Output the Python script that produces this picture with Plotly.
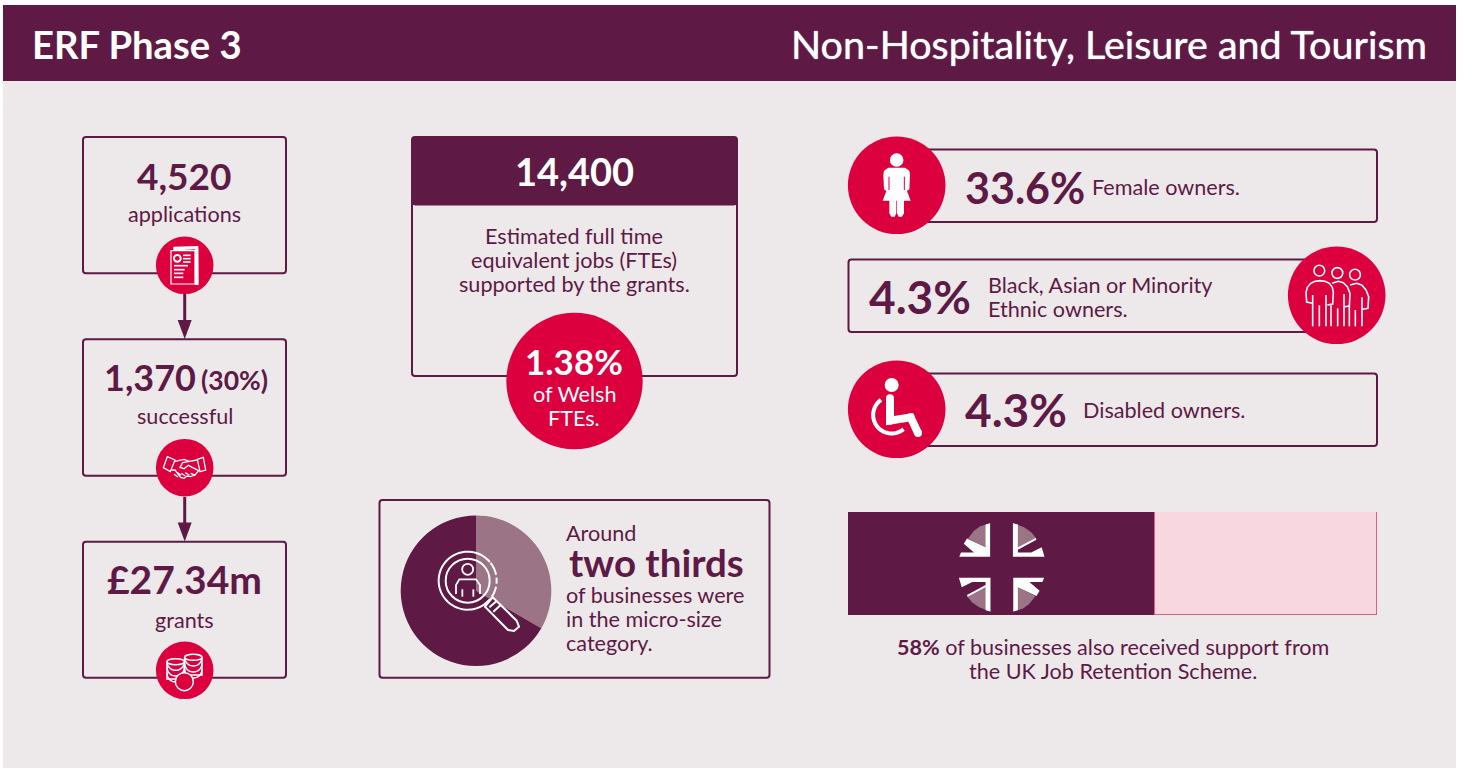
import math
import plotly.graph_objects as go

# ---- data ----
micro_labels = ["Other sizes", "Micro-size"]
micro_values = [33.3, 66.7]
jrs_labels = ["Received UK Job Retention Scheme support", "Did not"]
jrs_values = [58, 42]
funnel_numbers = ["4,520", "1,370", "£27.34m"]
funnel_labels = ["applications", "successful", "grants"]
funnel_pct = "(30%)"
owner_pcts = ["33.6%", "4.3%", "4.3%"]
fte_total = "14,400"
fte_share = "1.38%"
title_left = "ERF Phase 3"
title_right = "Non-Hospitality, Leisure and Tourism"

# ---- style ----
W, H = 1465, 768
PLUM = "#5e1a45"
RED = "#dd003f"
BG = "#ede9eb"
MUTE = "#9b7585"
PINK = "#f9d7e1"
PINKLINE = "#e95d85"
FONT = "Lato"
BODY = 21.6

X = lambda x: x / W
Y = lambda y: 1 - y / H
shapes, notes = [], []


def txt(x, y, s, size=BODY, bold=False, anchor="center", color=PLUM, shadow=None):
    f = dict(family=FONT, size=size, color=color, weight=700 if bold else 400)
    if shadow:
        f["shadow"] = shadow
    lift = 1 if size > 30 else 0
    notes.append(dict(x=X(x), y=Y(y - lift), xref="paper", yref="paper", text=s, showarrow=False,
                      xanchor=anchor, yanchor="middle", borderpad=0, borderwidth=0, font=f))


def raw_path(d, fill=None, line=None, lw=1.5, layer="above"):
    shapes.append(dict(type="path", xref="paper", yref="paper", path=d, layer=layer,
                       fillcolor=fill if fill else "rgba(0,0,0,0)",
                       line=dict(color=line if line else "rgba(0,0,0,0)", width=lw if line else 0)))


def poly(pts, fill=None, line=None, lw=1.5, close=True, layer="above"):
    d = "M" + " L".join(f"{X(a):.5f},{Y(b):.5f}" for a, b in pts)
    raw_path(d + (" Z" if close else ""), fill, line, lw, layer)


def circ(cx, cy, r, fill=None, line=None, lw=1.5, ry=None, layer="above"):
    ry = r if ry is None else ry
    shapes.append(dict(type="circle", xref="paper", yref="paper", layer=layer,
                       x0=X(cx - r), x1=X(cx + r), y0=Y(cy - ry), y1=Y(cy + ry),
                       fillcolor=fill if fill else "rgba(0,0,0,0)",
                       line=dict(color=line if line else "rgba(0,0,0,0)", width=lw if line else 0)))


def rect(x0, y0, x1, y1, fill=None, line=None, lw=2, layer="below"):
    shapes.append(dict(type="rect", xref="paper", yref="paper", layer=layer,
                       x0=X(x0), x1=X(x1), y0=Y(y0), y1=Y(y1),
                       fillcolor=fill if fill else "rgba(0,0,0,0)",
                       line=dict(color=line if line else "rgba(0,0,0,0)", width=lw if line else 0)))


def rbox(x0, y0, x1, y1, r=3, fill=None, line=PLUM, lw=2, layer="below"):
    def q(cx, cy, ex, ey):
        return f"Q{X(cx):.5f},{Y(cy):.5f} {X(ex):.5f},{Y(ey):.5f}"
    def l(a, b):
        return f"L{X(a):.5f},{Y(b):.5f}"
    d = (f"M{X(x0 + r):.5f},{Y(y0):.5f} " + l(x1 - r, y0) + " " + q(x1, y0, x1, y0 + r) + " " +
         l(x1, y1 - r) + " " + q(x1, y1, x1 - r, y1) + " " + l(x0 + r, y1) + " " + q(x0, y1, x0, y1 - r) +
         " " + l(x0, y0 + r) + " " + q(x0, y0, x0 + r, y0) + " Z")
    raw_path(d, fill, line, lw, layer)


def arc(cx, cy, r, a0, a1, n=40):
    return [(cx + r * math.cos(math.radians(a0 + (a1 - a0) * i / n)),
             cy + r * math.sin(math.radians(a0 + (a1 - a0) * i / n))) for i in range(n + 1)]


def zoomer(ox, oy, k=3.0):
    return lambda pts: [(ox + a / k, oy + b / k) for a, b in pts]


# ---- page ----
rect(3, 5, 1456, 768, fill=BG, line=None)
rect(3, 5, 1456, 81, fill=PLUM, line=None)
txt(32, 45, title_left, 38.2, True, "left", "white")
txt(1427, 45, title_right, 39.5, False, "right", "white", shadow="0 0 1px white")

# ---- funnel column ----
BX0, BX1, CX = 83, 286, 184.7
for (y0, y1) in [(137, 273.3), (339.3, 475.7), (541.7, 677.7)]:
    rbox(BX0, y0, BX1, y1)
for ya, yb in [(294, 339), (497, 541.5)]:
    poly([(CX, ya), (CX, yb - 18)], line=PLUM, lw=3, close=False)
    poly([(CX - 7, yb - 19), (CX + 7, yb - 19), (CX, yb)], fill=PLUM)
txt(CX, 176, funnel_numbers[0], 37, True)
txt(CX, 214, funnel_labels[0])
txt(104, 378, funnel_numbers[1], 36, True, "left")
txt(201, 380, funnel_pct, 26.5, True, "left")
txt(CX, 416, funnel_labels[1])
txt(CX, 580, funnel_numbers[2], 39, True)
txt(CX, 620, funnel_labels[2])

# document icon
for cy in (265.3, 467.7, 670.3):
    circ(CX, cy, 28.8, fill=RED)
z = zoomer(60, 120)
poly(z([(340, 392), (340, 380), (415, 378), (416, 495), (405, 495), (405, 388)]), fill="white")
poly(z([(333, 392), (405, 392), (405, 492), (333, 492)]), fill=RED, line="white", lw=1.2)
poly(z([(345, 384), (413, 384), (413, 490)]), line="white", lw=1, close=False)
cx, cy = z([(352, 415)])[0]
circ(cx, cy, 3.4, fill=RED, line="white", lw=2)
for a, b, c in [(369, 392, 406), (369, 392, 416), (369, 392, 426), (342, 384, 437), (342, 374, 449), (342, 370, 460), (342, 370, 472)]:
    poly(z([(a, c), (b, c)]), line="white", lw=1.6, close=False)

# handshake icon
z = zoomer(60, 420)
poly(z([(322, 110), (345, 120), (331, 155), (310, 143)]), line="white", lw=1.3)
poly(z([(412, 118), (430, 112), (437, 150), (420, 155)]), line="white", lw=1.3)
poly(z([(345, 124), (372, 118), (388, 124), (412, 120)]), line="white", lw=1.3, close=False)
poly(z([(388, 124), (368, 128), (360, 142), (372, 146), (385, 136), (416, 152), (405, 165), (392, 160)]), line="white", lw=1.3, close=False)
poly(z([(332, 150), (345, 150), (362, 172), (372, 175), (382, 168), (392, 170), (405, 165)]), line="white", lw=1.3, close=False)
for a, b in [(350, 155), (360, 150), (372, 152), (384, 150)]:
    poly(z([(a - 8, b + 8), (a + 4, b + 16)]), line="white", lw=1.3, close=False)

# coins icon
z = zoomer(60, 420)
for sx, tops in [(347, (725, 742, 760)), (400, (712, 730, 748))]:
    (cxx, _), = z([(sx, 0)])
    top = 420 + tops[0] / 3
    bottom = 420 + (tops[-1] + 17) / 3
    poly([(cxx - 8.7, top), (cxx - 8.7, bottom), (cxx + 8.7, bottom), (cxx + 8.7, top)], fill=RED, line="white", lw=1.5, close=False)
    for t in reversed(tops):
        poly(arc(cxx, 420 + t / 3, 8.7, 0, 180, 16), line="white", lw=1.5, close=False)
    circ(cxx, top, 8.7, ry=3, fill=RED, line="white", lw=1.5)
cx, cy = z([(373, 785)])[0]
circ(cx, cy, 9, fill=RED, line="white", lw=1.5)

# ---- jobs card ----
rbox(412, 137, 737, 376)
rbox(412, 137, 737, 205, fill=PLUM, line=PLUM, lw=1)
txt(574, 172, fte_total, 38, True, color="white")
for y, s in [(236, "Estimated full time"), (260, "equivalent jobs (FTEs)"), (284, "supported by the grants.")]:
    txt(574, y, s)
circ(574.5, 381, 68.2, fill=RED)
txt(574, 362, fte_share, 35, True, color="white")
txt(574, 394, "of Welsh", color="white")
txt(574, 418, "FTEs.", color="white")

# ---- micro-size card ----
rbox(379.5, 500, 769.5, 677.7)
txt(566, 533, "Around", anchor="left")
txt(569, 563, "two thirds", 38.5, True, "left")
for y, s in [(595, "of businesses were"), (619, "in the micro-size"), (643, "category.")]:
    txt(566, y, s, anchor="left")
z = zoomer(370, 490)
c0 = z([(293, 272)])[0]
poly(arc(c0[0], c0[1], 29, 40, 320, 60), line="white", lw=2, close=False)
poly(arc(c0[0], c0[1], 29, -38, -12, 8), line="white", lw=2, close=False)
poly(arc(c0[0], c0[1], 29, -6, 6, 4), line="white", lw=2, close=False)
poly(arc(c0[0], c0[1], 29, 12, 34, 6), line="white", lw=2, close=False)
circ(c0[0], c0[1], 22, line="white", lw=2)
hc = z([(293, 238)])[0]
circ(hc[0], hc[1], 5.5, line="white", lw=1.8)
poly(z([(258, 312), (258, 285), (268, 268), (318, 268), (330, 285), (330, 312)]), line="white", lw=1.8, close=False)
for a in (277, 310):
    poly(z([(a, 298), (a, 320)]), line="white", lw=1.8, close=False)
poly(z([(345, 342), (368, 322)]), line="white", lw=2, close=False)
poly(z([(368, 322), (440, 392), (447, 410), (432, 423), (414, 420), (345, 350)]), fill=PLUM, line="white", lw=2)
poly(z([(358, 352), (380, 333)]), line="white", lw=2, close=False)
poly(z([(370, 365), (392, 345)]), line="white", lw=2, close=False)

# ---- owners ----
rbox(885, 149.5, 1377, 222)
rbox(848.5, 259.5, 1336, 332)
rbox(885, 373.5, 1377, 446)
circ(896.7, 185.3, 48.8, fill=RED)
circ(1336.7, 295.3, 48.8, fill=RED)
circ(896.7, 409.3, 48.8, fill=RED)
txt(965, 188, owner_pcts[0], 43, True, "left")
txt(1092, 187, "Female owners.", anchor="left")
txt(869, 297, owner_pcts[1], 46, True, "left")
txt(988, 285, "Black, Asian or Minority", anchor="left")
txt(988, 309, "Ethnic owners.", anchor="left")
txt(965, 410, owner_pcts[2], 46, True, "left")
txt(1083, 410, "Disabled owners.", anchor="left")

# female icon
z = zoomer(840, 130)
c = z([(170, 90)])[0]
circ(c[0], c[1], 6.8, fill="white")
poly(z([(145, 113), (195, 113), (208, 122), (210, 135), (208, 178), (201, 183), (212, 212), (192, 212), (192, 250),
        (186, 260), (176, 260), (171, 250), (171, 212), (169, 212), (169, 250), (164, 260), (154, 260), (148, 250),
        (148, 212), (128, 212), (139, 183), (132, 178), (130, 135), (132, 122)]), fill="white")
for a in (147, 193):
    poly(z([(a, 140), (a, 180)]), line=RED, lw=1, close=False)

# group icon
z = zoomer(1270, 240)
for a, b in [(148, 92), (202, 99), (255, 104)]:
    c = z([(a, b)])[0]
    circ(c[0], c[1], 5.4, line="white", lw=1.6)
poly(z([(127, 190), (110, 186), (108, 158), (112, 142), (122, 130), (135, 124), (150, 122), (165, 124), (178, 130), (187, 142), (190, 158), (188, 192), (172, 195)]), line="white", lw=1.6, close=False)
poly(z([(186, 130), (205, 124), (220, 128), (232, 140), (240, 160), (238, 198), (224, 200)]), line="white", lw=1.6, close=False)
poly(z([(240, 135), (260, 130), (275, 135), (288, 150), (296, 170), (294, 205), (278, 208)]), line="white", lw=1.6, close=False)
for a, top in [(128, 165), (148, 196), (168, 165), (183, 196), (203, 205), (222, 162), (238, 196), (256, 210), (276, 172)]:
    poly(z([(a, top), (a, 259)]), line="white", lw=1.6, close=False)

# wheelchair icon
z = zoomer(840, 355)
c = z([(155, 90)])[0]
circ(c[0], c[1], 7, fill="white")
poly(z([(150, 130), (150, 197), (212, 187), (234, 234)]), line="white", lw=8, close=False)
for a, b in [(150, 130), (150, 197), (212, 187), (234, 234)]:
    c = z([(a, b)])[0]
    circ(c[0], c[1], 4, fill="white")
c = z([(155, 180)])[0]
poly(arc(c[0], c[1], 18.5, 50, 235, 30), line="white", lw=4, close=False)

# ---- UK flag over the 58% bar ----
z = zoomer(840, 500, 2.851)
TL_white = [(428, 66), (428, 162), (340, 162), (345, 150), (382, 150), (353, 125), (362, 110), (415, 135), (415, 70)]
TL_grey = [(428, 66), (400, 75), (382, 88), (365, 110), (415, 135)]
TR_white = [(493, 66), (493, 162), (583, 162), (575, 135), (545, 150), (507, 150), (507, 142), (560, 113), (558, 108), (507, 135), (507, 70)]
TR_grey = [(493, 66), (525, 78), (545, 92), (560, 110), (507, 135)]
flip = lambda pts: [(922 - a, 384 - b) for a, b in pts]
for pts, col in [(TL_grey, MUTE), (TL_white, "white"), (TR_grey, MUTE), (TR_white, "white"),
                 (flip(TL_grey), MUTE), (flip(TL_white), "white"), (flip(TR_grey), MUTE), (flip(TR_white), "white")]:
    poly(z(pts), fill=col)
txt(1113, 647, "<b>58%</b> of businesses also received support from")
txt(1113, 671, "the UK Job Retention Scheme.")

# ---- data marks ----
fig = go.Figure()
fig.add_trace(go.Pie(labels=micro_labels, values=micro_values, sort=False, direction="clockwise", rotation=0,
                     marker=dict(colors=[MUTE, PLUM], line=dict(width=0)), textinfo="none", hoverinfo="skip",
                     domain=dict(x=[X(400.7), X(551.3)], y=[Y(666), Y(515.4)])))
for lab, val, col, lc, lw in zip(jrs_labels, jrs_values, [PLUM, PINK], [PLUM, PINKLINE], [0, 1.5]):
    fig.add_trace(go.Bar(x=[val], y=["JRS"], orientation="h", name=lab, cliponaxis=False,
                         marker=dict(color=col, line=dict(color=lc, width=lw)), hoverinfo="skip"))

fig.update_layout(
    width=W, height=H, margin=dict(l=0, r=0, t=0, b=0), paper_bgcolor="white", plot_bgcolor="rgba(0,0,0,0)",
    barmode="stack", bargap=0, showlegend=False, hovermode=False,
    xaxis=dict(domain=[X(848), X(1377)], range=[0, 100], visible=False, fixedrange=True),
    yaxis=dict(domain=[Y(615), Y(512)], visible=False, fixedrange=True),
    shapes=shapes, annotations=notes,
)
fig.write_html("out.html", config=dict(displayModeBar=False),
               post_script="document.body.style.margin='0';document.body.style.overflow='hidden';")
